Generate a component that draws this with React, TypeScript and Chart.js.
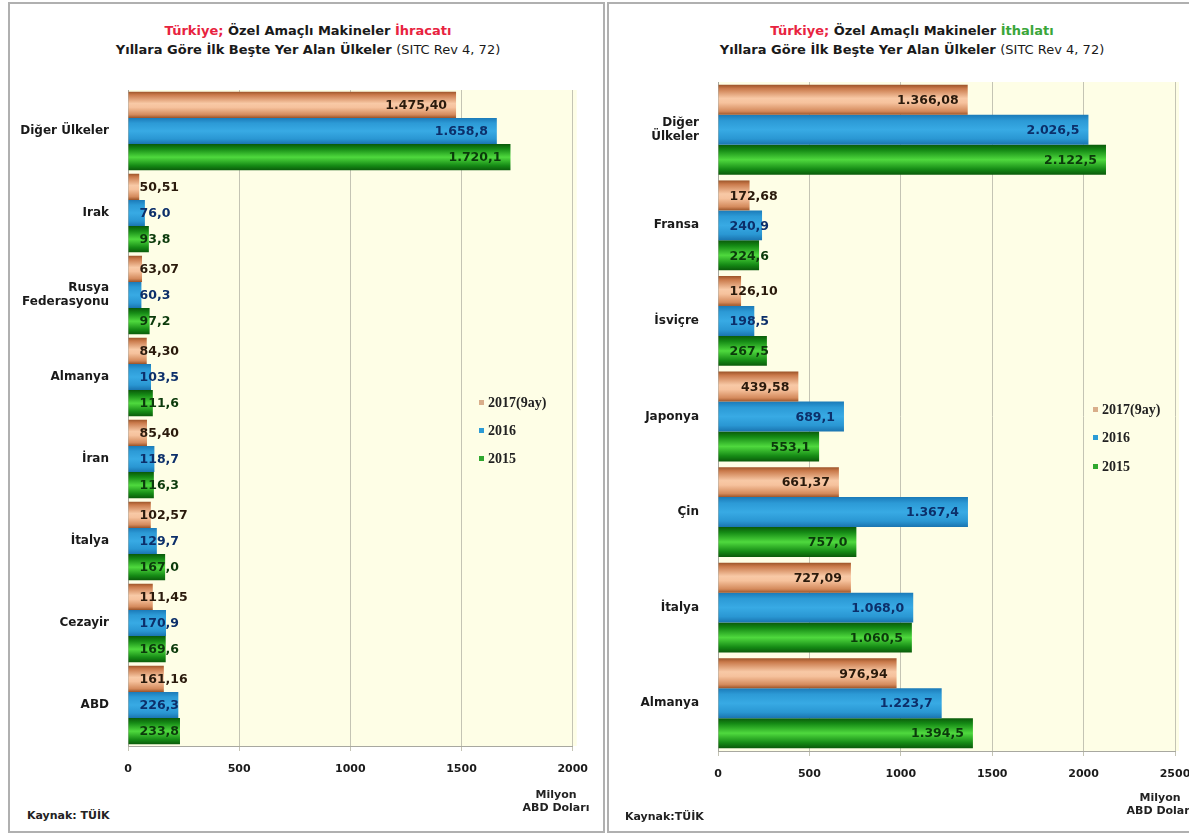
import React, { useEffect, useRef } from 'react';
import { Chart, registerables } from 'chart.js';

Chart.register(...registerables);

// ---------- data ----------
const SERIES_NAMES = ['2017(9ay)', '2016', '2015'];
const SERIES_DECIMALS = [2, 1, 1];

const EXPORT_COUNTRIES: (string | string[])[] = ['Diğer Ülkeler', 'Irak', ['Rusya', 'Federasyonu'], 'Almanya', 'İran', 'İtalya', 'Cezayir', 'ABD'];
const EXPORT_2017 = [1475.40, 50.51, 63.07, 84.30, 85.40, 102.57, 111.45, 161.16];
const EXPORT_2016 = [1658.8, 76.0, 60.3, 103.5, 118.7, 129.7, 170.9, 226.3];
const EXPORT_2015 = [1720.1, 93.8, 97.2, 111.6, 116.3, 167.0, 169.6, 233.8];
const EXPORT_TICKS = [0, 500, 1000, 1500, 2000];

const IMPORT_COUNTRIES: (string | string[])[] = [['Diğer', 'Ülkeler'], 'Fransa', 'İsviçre', 'Japonya', 'Çin', 'İtalya', 'Almanya'];
const IMPORT_2017 = [1366.08, 172.68, 126.10, 439.58, 661.37, 727.09, 976.94];
const IMPORT_2016 = [2026.5, 240.9, 198.5, 689.1, 1367.4, 1068.0, 1223.7];
const IMPORT_2015 = [2122.5, 224.6, 267.5, 553.1, 757.0, 1060.5, 1394.5];
const IMPORT_TICKS = [0, 500, 1000, 1500, 2000, 2500];

// ---------- styles ----------
const FONT = '"DejaVu Sans", Verdana, sans-serif';
const BASE_COLORS = ['#e7a57a', '#2b9bd6', '#2fb02a'];
const GRADIENT_STOPS: [number, string][][] = [
  [[0, '#9c5429'], [0.12, '#c9794a'], [0.45, '#f8c9a6'], [0.6, '#f6c29d'], [0.88, '#d48a5c'], [1, '#9c5429']],
  [[0, '#1b7ab8'], [0.2, '#2c9ad6'], [0.5, '#38aae4'], [0.8, '#2a97d3'], [1, '#1a74b0']],
  [[0, '#0a5a0a'], [0.18, '#158a15'], [0.5, '#4fd93e'], [0.82, '#158a15'], [1, '#0a5a0a']],
];
const LABEL_COLORS = ['#2a1a0c', '#0c2f6a', '#0b3a0b'];
const LEGEND_COLORS = ['#d9ae8a', '#2b9bd6', '#2fa82f'];

function formatTR(v: number, d: number): string {
  const s = v.toFixed(d);
  const [i, f] = s.split('.');
  const int = i.replace(/\B(?=(\d{3})+(?!\d))/g, '.');
  return f ? int + ',' + f : int;
}

const plotBackground = {
  id: 'plotBackground',
  beforeDraw(chart: any) {
    const { ctx, chartArea } = chart;
    ctx.save();
    ctx.fillStyle = '#fefee6';
    ctx.fillRect(chartArea.left, chartArea.top, chartArea.right - chartArea.left + 4, chartArea.bottom - chartArea.top);
    ctx.restore();
  },
};

const gradientBars = {
  id: 'gradientBars',
  beforeDatasetsDraw(chart: any) {
    const ctx = chart.ctx;
    chart.data.datasets.forEach((_ds: any, di: number) => {
      const stops = GRADIENT_STOPS[di];
      chart.getDatasetMeta(di).data.forEach((el: any) => {
        const p = el.getProps(['y', 'height'], true);
        const g = ctx.createLinearGradient(0, p.y - p.height / 2, 0, p.y + p.height / 2);
        stops.forEach(([o, c]) => g.addColorStop(o, c));
        try {
          el.options.backgroundColor = g;
        } catch (e) {
          /* ignore */
        }
      });
    });
  },
};

const valueLabels = {
  id: 'valueLabels',
  afterDatasetsDraw(chart: any) {
    const ctx = chart.ctx;
    ctx.save();
    ctx.font = 'bold 12.5px ' + FONT;
    ctx.textBaseline = 'middle';
    ctx.textAlign = 'right';
    chart.data.datasets.forEach((ds: any, di: number) => {
      chart.getDatasetMeta(di).data.forEach((el: any, i: number) => {
        const txt = formatTR(ds.data[i], SERIES_DECIMALS[di]);
        const w = ctx.measureText(txt).width;
        const p = el.getProps(['x', 'y', 'base'], true);
        const right = Math.max(p.x - 9, p.base + 11 + w);
        ctx.fillStyle = LABEL_COLORS[di];
        ctx.fillText(txt, right, p.y + 1);
      });
    });
    ctx.restore();
  },
};

type PanelProps = {
  labels: (string | string[])[];
  s2017: number[];
  s2016: number[];
  s2015: number[];
  ticks: number[];
  left: number;
  top: number;
  width: number;
  height: number;
  axisWidth: number;
  labelPad: number;
  padding: { top: number; right: number; bottom: number; left: number };
  catPct: number;
};

function BarPanel(props: PanelProps) {
  const ref = useRef<HTMLCanvasElement>(null);
  useEffect(() => {
    if (!ref.current) return;
    const series = [props.s2017, props.s2016, props.s2015];
    const chart = new Chart(ref.current, {
      type: 'bar',
      data: {
        labels: props.labels as any,
        datasets: series.map((d, i) => ({
          label: SERIES_NAMES[i],
          data: d,
          backgroundColor: () => BASE_COLORS[i],
          borderWidth: 0,
          barPercentage: 1,
          categoryPercentage: props.catPct,
        })),
      },
      options: {
        indexAxis: 'y',
        responsive: false,
        animation: false,
        layout: { padding: props.padding },
        plugins: { legend: { display: false }, tooltip: { enabled: false }, title: { display: false } },
        scales: {
          x: {
            min: props.ticks[0],
            max: props.ticks[props.ticks.length - 1],
            afterBuildTicks: (s: any) => {
              s.ticks = props.ticks.map((v) => ({ value: v }));
            },
            afterFit: (s: any) => {
              s.height = 40;
            },
            grid: { color: '#c4c4b4', lineWidth: 1, tickLength: 5, drawOnChartArea: true },
            border: { display: true, color: '#a8a8a0', width: 1 },
            ticks: {
              padding: 12,
              color: '#1a1a1a',
              font: { family: FONT, size: 11, weight: 'bold' },
              maxRotation: 0,
              autoSkip: false,
              callback: (v: any) => String(v),
            },
          },
          y: {
            afterFit: (s: any) => {
              s.width = props.axisWidth;
            },
            grid: { display: false },
            border: { display: true, color: '#a8a8a0', width: 1 },
            ticks: {
              padding: props.labelPad,
              color: '#1a1a1a',
              font: { family: FONT, size: 12, weight: 'bold' },
              autoSkip: false,
            },
          },
        },
      },
      plugins: [plotBackground, gradientBars, valueLabels],
    });
    return () => chart.destroy();
  }, []);
  return (
    <canvas
      ref={ref}
      width={props.width}
      height={props.height}
      style={{ position: 'absolute', left: props.left, top: props.top, width: props.width, height: props.height }}
    />
  );
}

const abs = (s: React.CSSProperties): React.CSSProperties => ({ position: 'absolute', ...s });

function Legend({ x, ys }: { x: number; ys: number[] }) {
  return (
    <>
      {SERIES_NAMES.map((n, i) => (
        <div
          key={n}
          style={abs({
            left: x,
            top: ys[i] - 8,
            height: 16,
            lineHeight: '16px',
            fontFamily: '"Liberation Serif", serif',
            fontWeight: 'bold',
            fontSize: 14,
            color: '#222',
            whiteSpace: 'nowrap',
          })}
        >
          <span
            style={{
              display: 'inline-block',
              width: 5,
              height: 5,
              background: LEGEND_COLORS[i],
              marginRight: 4,
              verticalAlign: 'middle',
              position: 'relative',
              top: -1,
            }}
          />
          {n}
        </div>
      ))}
    </>
  );
}

function Title({ left, width, kind }: { left: number; width: number; kind: 'ihracat' | 'ithalat' }) {
  return (
    <div style={abs({ left, top: 21, width, textAlign: 'center', fontFamily: FONT, fontSize: 13, fontWeight: 'bold', lineHeight: '19px', color: '#1a1a1a' })}>
      <div>
        <span style={{ color: '#e8233f' }}>Türkiye; </span>
        <span>Özel Amaçlı Makineler </span>
        {kind === 'ihracat' ? (
          <span style={{ color: '#e8233f' }}>İhracatı</span>
        ) : (
          <span style={{ color: '#3aa63a' }}>İthalatı</span>
        )}
      </div>
      <div>
        Yıllara Göre İlk Beşte Yer Alan Ülkeler <span style={{ fontWeight: 'normal' }}>(SITC Rev 4, 72)</span>
      </div>
    </div>
  );
}

export default function App() {
  const foot: React.CSSProperties = { fontFamily: FONT, fontSize: 11, fontWeight: 'bold', color: '#222' };
  return (
    <div style={abs({ left: 0, top: 0, width: 1189, height: 835, overflow: 'hidden', background: '#ffffff' })}>
      {/* panel frames */}
      <div style={abs({ left: 8, top: 2, width: 597, height: 831, border: '2px solid #b0b0b0', boxSizing: 'border-box' })} />
      <div style={abs({ left: 607, top: 2, width: 600, height: 831, border: '2px solid #b0b0b0', boxSizing: 'border-box' })} />

      <Title left={8} width={600} kind="ihracat" />
      <Title left={612} width={600} kind="ithalat" />

      <BarPanel
        labels={EXPORT_COUNTRIES}
        s2017={EXPORT_2017}
        s2016={EXPORT_2016}
        s2015={EXPORT_2015}
        ticks={EXPORT_TICKS}
        left={10}
        top={70}
        width={590}
        height={730}
        axisWidth={118}
        labelPad={11}
        padding={{ top: 20, right: 26, bottom: 14, left: 0 }}
        catPct={0.96}
      />
      <BarPanel
        labels={IMPORT_COUNTRIES}
        s2017={IMPORT_2017}
        s2016={IMPORT_2016}
        s2015={IMPORT_2015}
        ticks={IMPORT_TICKS}
        left={612}
        top={60}
        width={600}
        height={740}
        axisWidth={106}
        labelPad={11}
        padding={{ top: 22, right: 37, bottom: 9, left: 0 }}
        catPct={0.94}
      />

      <Legend x={479} ys={[403, 431, 459]} />
      <Legend x={1093} ys={[410, 438, 467]} />

      <div style={abs({ ...foot, left: 27, top: 809 })}>Kaynak: TÜİK</div>
      <div style={abs({ ...foot, left: 496, width: 120, top: 788, textAlign: 'center', lineHeight: '13px' })}>
        Milyon
        <br />
        ABD Doları
      </div>
      <div style={abs({ ...foot, left: 625, top: 810 })}>Kaynak:TÜİK</div>
      <div style={abs({ ...foot, left: 1100, width: 120, top: 791, textAlign: 'center', lineHeight: '13px' })}>
        Milyon
        <br />
        ABD Doları
      </div>
    </div>
  );
}
